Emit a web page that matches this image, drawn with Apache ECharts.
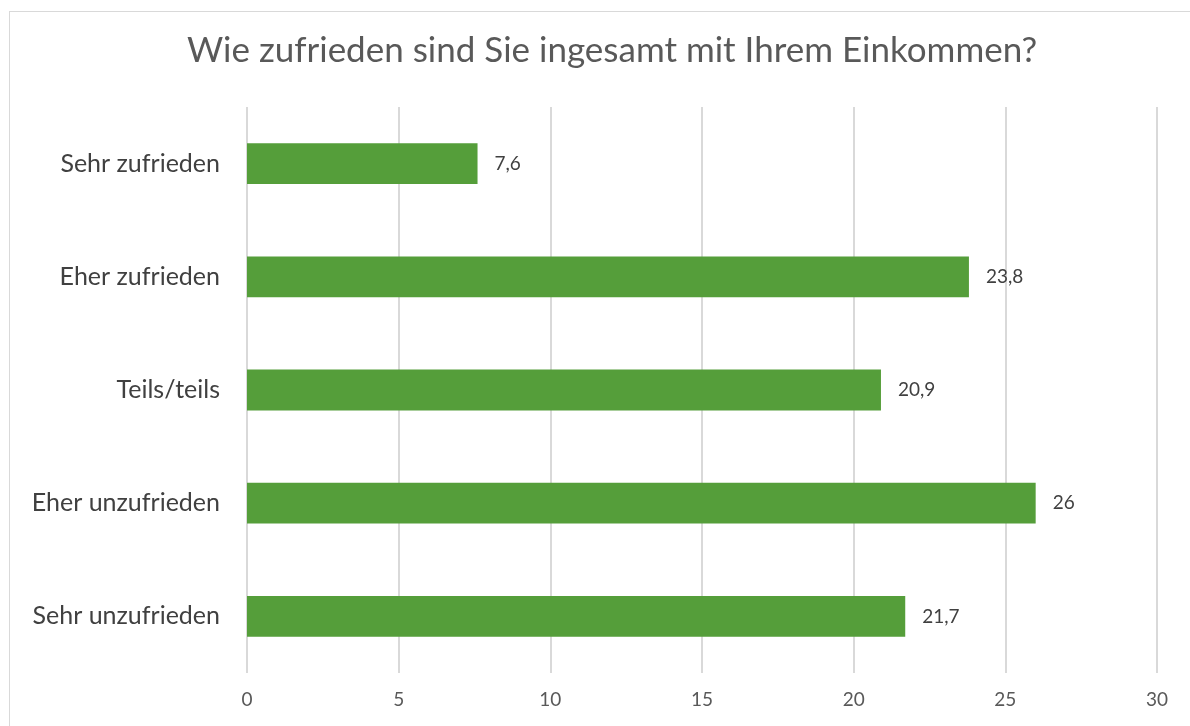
<!DOCTYPE html>
<html>
<head>
<meta charset="utf-8">
<script src="https://cdn.jsdelivr.net/npm/echarts@6/dist/echarts.min.js"></script>
<style>
  html, body { margin: 0; padding: 0; background: #fff; }
  .frame {
    position: absolute; left: 9px; top: 11px; width: 1200px; height: 740px;
    border: 1.5px solid #d9d9d9; box-sizing: border-box;
  }
  #chart { position: absolute; left: 0; top: 0; width: 1190px; height: 726px; }
</style>
</head>
<body>
<div class="frame"></div>
<div id="chart"></div>
<script>
// Kategorien (von oben nach unten)
const categories = ['Sehr zufrieden', 'Eher zufrieden', 'Teils/teils', 'Eher unzufrieden', 'Sehr unzufrieden']
// Anteile in %
const values = [7.6, 23.8, 20.9, 26, 21.7]
// X-Achse
const xMin = 0
const xMax = 30
const xStep = 5

const fontFamily = '"Lato", "Open Sans", "Noto Sans", sans-serif'

const chart = echarts.init(document.getElementById('chart'))
chart.setOption({
    animation: false,
    textStyle: { fontFamily: fontFamily },
    title: {
        text: 'Wie zufrieden sind Sie ingesamt mit Ihrem Einkommen?',
        left: 607,
        textAlign: 'center',
        top: 28,
        textStyle: { fontSize: 35, fontWeight: 'normal', color: '#595959', fontFamily: fontFamily },
    },
    grid: {
        left: 247,
        right: 33,
        top: 107,
        bottom: 53,
        containLabel: false,
    },
    xAxis: {
        type: 'value',
        min: xMin,
        max: xMax,
        interval: xStep,
        axisLine: { show: false },
        axisTick: { show: false },
        axisLabel: { color: '#595959', fontSize: 19, margin: 17, fontFamily: fontFamily },
        splitLine: { show: true, lineStyle: { color: '#d9d9d9', width: 2 } },
    },
    yAxis: {
        type: 'category',
        data: categories,
        inverse: true,
        axisLine: { show: false },
        axisTick: { show: false },
        axisLabel: { color: '#404040', fontSize: 25, margin: 27, fontFamily: fontFamily },
    },
    series: [
        {
            type: 'bar',
            data: values,
            barWidth: '36%',
            itemStyle: { color: '#559E3A' },
            label: {
                show: true,
                position: 'right',
                distance: 17,
                color: '#404040',
                fontSize: 19,
                fontFamily: fontFamily,
                formatter: p => String(p.value).replace('.', ','),
            },
        },
    ],
})
</script>
</body>
</html>
